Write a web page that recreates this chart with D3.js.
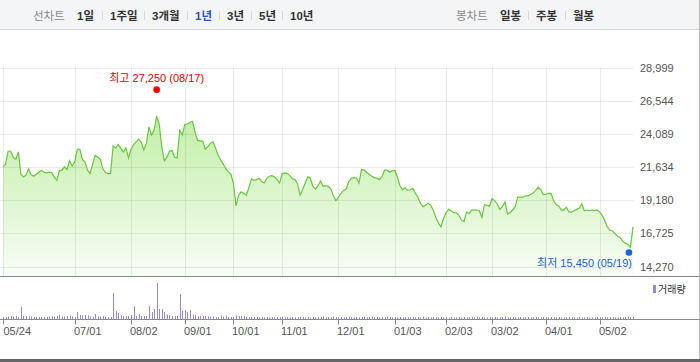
<!DOCTYPE html>
<html>
<head>
<meta charset="utf-8">
<script src="https://cdn.jsdelivr.net/npm/d3@7"></script>
<style>
  body { margin: 0; background: #fff; }
  svg { display: block; font-family: "Liberation Sans", "Noto Sans CJK KR", sans-serif; }
</style>
</head>
<body>
<svg id="chart" width="700" height="362"></svg>
<script>
// menu texts
const lineChartLabel = '선차트';
const periodLabels = ['1일', '1주일', '3개월', '1년', '3년', '5년', '10년'];
const activePeriod = '1년';
const candleChartLabel = '봉차트';
const candleLabels = ['일봉', '주봉', '월봉'];
const volumeLabel = '거래량';

// axes
const priceTicks = [14270, 16725, 19180, 21634, 24089, 26544, 28999];
const tickLabels = ['05/24', '07/01', '08/02', '09/01', '10/01', '11/01', '12/01', '01/03', '02/03', '03/02', '04/01', '05/02'];
const tickIndex = [0, 28, 50, 71, 90, 109, 131, 153, 173, 191, 212, 233];

// daily closes (trading days 05/24 .. 05/20)
const closes = [
  21650, 21850, 22800, 22800, 22350, 22200, 22750, 21100, 20900, 21050,
  21500, 21050, 20950, 21100, 21250, 21400, 21250, 21200, 21250, 21200,
  20900, 20650, 21350, 21400, 21650, 21450, 22100, 21700, 22000, 22950,
  22950, 22200, 22000, 21400, 21150, 21850, 22500, 22350, 22200, 21500,
  21250, 21150, 21150, 23200, 23050, 23300, 23000, 22750, 23050, 22300,
  22950, 23300, 23500, 23700, 23450, 22900, 23400, 24600, 24000, 24350,
  25400, 24800, 23100, 22100, 22350, 22800, 22850, 22350, 22300, 24350,
  24000, 24800, 24800, 24950, 25000, 24200, 23600, 23550, 23550, 22950,
  23150, 23400, 23500, 23050, 22500, 22150, 21850, 21500, 21250, 21100,
  20400, 18750, 19550, 19800, 19700, 19550, 20100, 20750, 20650, 20700,
  20800, 20550, 20450, 20800, 20950, 21000, 20900, 20700, 20450, 21150,
  21200, 21150, 21000, 20750, 20700, 20400, 19550, 19950, 20450, 20900,
  20800, 20200, 20000, 20250, 20600, 20200, 20250, 20200, 20000, 19500,
  19150, 19400, 19700, 19900, 20000, 20550, 20800, 20850, 20800, 20450,
  21450, 21400, 21250, 21100, 20950, 20850, 20800, 20700, 20950, 21400,
  21400, 21250, 21350, 21400, 20900, 20250, 19950, 20100, 19900, 19950,
  20050, 19700, 19400, 18950, 18700, 18800, 18950, 18800, 18450, 17900,
  17500, 17200, 17800, 18250, 18500, 18400, 18250, 18250, 18050, 17700,
  17600, 18300, 18200, 18450, 18450, 18450, 18400, 17900, 18850, 18800,
  18750, 19300, 19150, 18900, 18500, 18700, 19050, 18150, 18250, 18450,
  18700, 19400, 19400, 19400, 19500, 19500, 19600, 19700, 19900, 20150,
  19950, 19600, 19600, 19700, 19650, 19150, 18850, 18750, 18450, 18450,
  18650, 18300, 18300, 18400, 18500, 18600, 18900, 18400, 18450, 18400,
  18450, 18400, 18450, 18300, 18050, 17650, 17200, 16950, 16900, 16700,
  16500, 16400, 16150, 16000, 15900, 15700, 17200
];

// daily volume, thousand shares
const volumes = [
  200, 200, 250, 300, 250, 300, 200, 1230, 300, 300,
  250, 250, 200, 200, 200, 200, 200, 200, 250, 250,
  250, 300, 400, 250, 250, 300, 350, 250, 200, 700,
  400, 350, 400, 350, 250, 250, 500, 250, 250, 300,
  250, 200, 200, 2600, 800, 600, 400, 300, 300, 300,
  400, 1300, 300, 500, 300, 300, 300, 1300, 700, 1000,
  3600, 1000, 1000, 700, 450, 400, 300, 300, 300, 2500,
  800, 900, 700, 900, 450, 400, 300, 300, 300, 300,
  250, 250, 250, 200, 200, 350, 250, 350, 200, 200,
  200, 350, 300, 300, 300, 200, 200, 200, 200, 200,
  150, 200, 150, 200, 150, 200, 150, 200, 200, 250,
  150, 200, 150, 200, 150, 200, 250, 200, 150, 200,
  150, 200, 150, 200, 200, 250, 150, 200, 150, 250,
  200, 150, 200, 150, 200, 250, 200, 150, 200, 150,
  200, 250, 150, 200, 250, 150, 200, 150, 200, 150,
  250, 200, 150, 200, 150, 200, 150, 200, 150, 150,
  200, 150, 200, 150, 250, 150, 200, 150, 200, 150,
  150, 200, 150, 200, 150, 200, 150, 150, 200, 150,
  200, 150, 150, 200, 150, 250, 150, 200, 150, 150,
  200, 150, 200, 150, 150, 200, 250, 150, 150, 200,
  150, 150, 200, 150, 150, 200, 150, 150, 200, 150,
  150, 200, 150, 150, 200, 150, 150, 200, 150, 150,
  150, 200, 150, 150, 150, 200, 150, 150, 200, 150,
  150, 150, 200, 150, 150, 200, 150, 150, 200, 150,
  150, 200, 150, 200, 250, 150, 250
];

const highPoint = { value: 27250, date: '08/17', index: 60 };
const lowPoint = { value: 15450, date: '05/19', index: 245 };

const W = 700;
const plotLeft = 3;
const plotRight = 633;
const priceTop = 67.5;
const priceBottom = 266.5;
const priceFloor = 276;
const volTop = 277;
const volBase = 319;

const svg = d3.select('#chart');

// --- top menu bar
svg.append('rect').attr('x', 0).attr('y', 0).attr('width', W).attr('height', 30).attr('fill', '#f4f5f7');
svg.append('line').attr('x1', 0).attr('x2', W).attr('y1', 29.5).attr('y2', 29.5).attr('stroke', '#d0d3d8');

const menu = svg.append('g').attr('class', 'menu').attr('font-size', '11.5px');
const periodX = [77, 110, 152, 195, 227, 259, 290];
const candleX = [500, 536, 573];

menu.append('text').attr('x', 33).attr('y', 19.5).attr('fill', '#8a8a8a').text(lineChartLabel);
menu.append('text').attr('x', 456).attr('y', 19.5).attr('fill', '#8a8a8a').text(candleChartLabel);

function drawItems(labels, xs) {
  labels.forEach((d, i) => {
    menu.append('text')
      .attr('x', xs[i])
      .attr('y', 19.5)
      .attr('font-weight', 'bold')
      .attr('fill', d === activePeriod ? '#2a55c4' : '#333')
      .text(d);
    if (i > 0) {
      const sx = Math.round(xs[i] - 8) + 0.5;
      menu.append('line').attr('x1', sx).attr('x2', sx).attr('y1', 11).attr('y2', 20).attr('stroke', '#dadada');
    }
  });
}
drawItems(periodLabels, periodX);
drawItems(candleLabels, candleX);

// --- scales
const x = d3.scaleLinear().domain([0, closes.length - 1]).range([plotLeft, plotRight]);
const y = d3.scaleLinear().domain([priceTicks[0], priceTicks[priceTicks.length - 1]]).range([priceBottom, priceTop]);
const yv = d3.scaleLinear().domain([0, 4200]).range([volBase, volBase - 42]);

// --- area fill
const defs = svg.append('defs');
const grad = defs.append('linearGradient')
  .attr('id', 'fillGrad')
  .attr('gradientUnits', 'userSpaceOnUse')
  .attr('x1', 0).attr('x2', 0).attr('y1', 100).attr('y2', priceFloor);
grad.append('stop').attr('offset', '0%').attr('stop-color', '#bdeea0');
grad.append('stop').attr('offset', '100%').attr('stop-color', '#f8fdf5');

const area = d3.area()
  .x((d, i) => x(i))
  .y0(priceFloor)
  .y1((d) => y(d));

svg.append('path').datum(closes).attr('d', area).attr('fill', 'url(#fillGrad)');

// --- grid
const grid = svg.append('g').attr('class', 'grid');
grid.selectAll('.h')
  .data(priceTicks)
  .enter()
  .append('line')
  .attr('x1', 0).attr('x2', plotRight)
  .attr('y1', (d) => Math.round(y(d)) + 0.5)
  .attr('y2', (d) => Math.round(y(d)) + 0.5)
  .attr('stroke', 'rgba(0,0,0,0.08)');
grid.selectAll('.v')
  .data(tickIndex)
  .enter()
  .append('line')
  .attr('x1', (d) => Math.round(x(d)) + 0.5)
  .attr('x2', (d) => Math.round(x(d)) + 0.5)
  .attr('y1', priceTop).attr('y2', priceFloor)
  .attr('stroke', 'rgba(0,0,0,0.08)');

// --- price line
const line = d3.line()
  .x((d, i) => x(i))
  .y((d) => y(d));

svg.append('path').datum(closes).attr('d', line)
  .attr('fill', 'none').attr('stroke', '#66c83a').attr('stroke-width', 1.2);

// --- right axis
const yAxis = d3.axisRight(y).tickValues(priceTicks).tickSize(0).tickPadding(7).tickFormat(d3.format(','));
const ya = svg.append('g').attr('class', 'yAxis').attr('transform', `translate(${plotRight}, 0)`).call(yAxis);
ya.select('.domain').remove();
ya.selectAll('text').attr('fill', '#555').attr('font-size', '11px').attr('font-family', '"Liberation Sans", sans-serif');

// --- high / low markers
const hx = x(highPoint.index);
const hy = y(highPoint.value) - 1.5;
svg.append('circle').attr('cx', hx).attr('cy', hy).attr('r', 3.3).attr('fill', '#ff0000');
svg.append('text').attr('x', hx).attr('y', hy - 8).attr('text-anchor', 'middle')
  .attr('font-size', '11px').attr('fill', '#e60000')
  .text(`최고 ${d3.format(',')(highPoint.value)} (${highPoint.date})`);

const lx = x(lowPoint.index);
const ly = y(lowPoint.value) + 2;
svg.append('circle').attr('cx', lx - 1.5).attr('cy', ly).attr('r', 3.3).attr('fill', '#1a63dc');
svg.append('text').attr('x', lx + 1.5).attr('y', ly + 14).attr('text-anchor', 'end')
  .attr('font-size', '11px').attr('fill', '#1e5fd3')
  .text(`최저 ${d3.format(',')(lowPoint.value)} (${lowPoint.date})`);

// --- separators
svg.append('line').attr('x1', 0).attr('x2', W).attr('y1', priceFloor + 0.5).attr('y2', priceFloor + 0.5).attr('stroke', '#8a8a8a');

// --- volume bars
svg.append('g').attr('class', 'volume')
  .selectAll('rect')
  .data(volumes)
  .enter()
  .append('rect')
  .attr('x', (d, i) => Math.round(x(i)))
  .attr('width', 1)
  .attr('y', (d) => yv(d))
  .attr('height', (d) => volBase - yv(d))
  .attr('fill', '#9b87d2');

// volume legend
svg.append('rect').attr('x', 653).attr('y', 285).attr('width', 3).attr('height', 8).attr('fill', '#9b87d2');
svg.append('text').attr('x', 658).attr('y', 292.5).attr('font-size', '10px').attr('fill', '#333').text(volumeLabel);

// --- x axis
const xAxis = d3.axisBottom(x).tickValues(tickIndex).tickSize(5).tickFormat((d, i) => tickLabels[i]);
const xa = svg.append('g').attr('class', 'xAxis').attr('transform', `translate(0, ${volBase + 0.5})`).call(xAxis);
xa.select('.domain').remove();
xa.selectAll('.tick line').attr('stroke', '#8a8a8a');
xa.selectAll('.tick').attr('transform', (d) => `translate(${Math.round(x(d)) + 0.5}, 0)`);
xa.selectAll('text')
  .attr('text-anchor', 'start')
  .attr('x', (d, i) => (i === 0 ? 0 : -1.5))
  .attr('y', 15.5)
  .attr('dy', 0)
  .attr('fill', '#555')
  .attr('font-size', '11px')
  .attr('font-family', '"Liberation Sans", sans-serif');

svg.append('line').attr('x1', 0).attr('x2', W).attr('y1', volBase + 0.5).attr('y2', volBase + 0.5).attr('stroke', '#8a8a8a');

// --- frame
svg.append('line').attr('x1', W - 0.5).attr('x2', W - 0.5).attr('y1', 0).attr('y2', 362).attr('stroke', '#b8b8b8');
svg.append('rect').attr('x', 0).attr('y', 359).attr('width', W).attr('height', 3).attr('fill', '#666');
</script>
</body>
</html>
